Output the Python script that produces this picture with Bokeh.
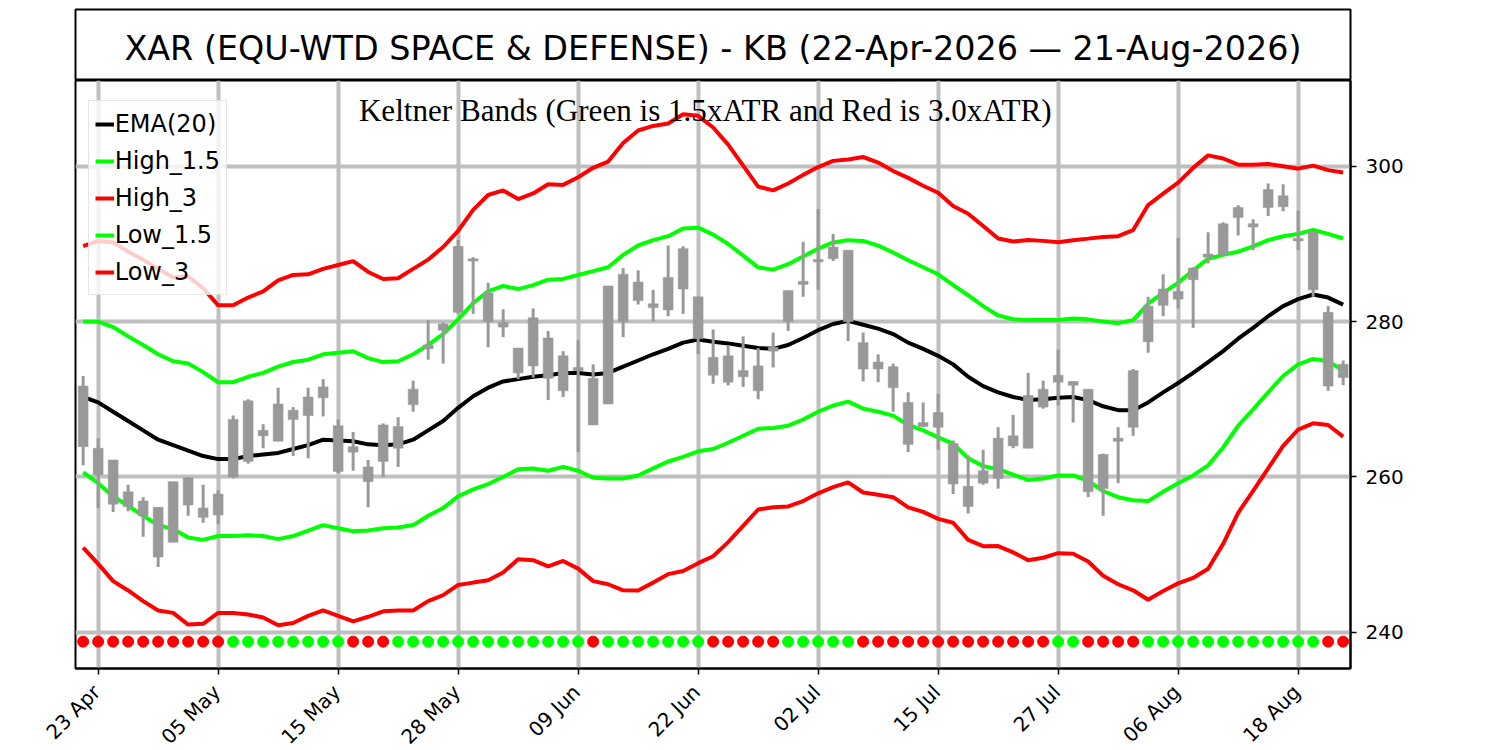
import math
import numpy as np
from bokeh.plotting import figure
from bokeh.models import FixedTicker, Label, Range1d, ColumnDataSource
from bokeh.layouts import column
from bokeh.embed import file_html
from bokeh.resources import INLINE
from bokeh.core.properties import value

# ---------------- data ----------------
title_text = "XAR (EQU-WTD SPACE & DEFENSE) - KB (22-Apr-2026 \u2014 21-Aug-2026)"
subtitle_text = "Keltner Bands (Green is 1.5xATR and Red is 3.0xATR)"

tick_idx = [1, 9, 17, 25, 33, 41, 49, 57, 65, 73, 81]
tick_labels = ["23 Apr", "05 May", "15 May", "28 May", "09 Jun", "22 Jun",
               "02 Jul", "15 Jul", "27 Jul", "06 Aug", "18 Aug"]
y_ticks = [240, 260, 280, 300]

opens = [271.7, 263.7, 262.2, 258.1, 256.9, 256.1, 259.4, 259.9, 256.0, 257.8,
         260.0, 262.0, 265.3, 264.6, 267.4, 267.9, 270.2, 260.7, 263.9, 261.3,
         266.7, 263.7, 269.3, 276.5, 278.9, 281.2, 287.8, 280.0, 279.3, 273.4,
         274.3, 272.7, 271.1, 273.7, 272.7, 269.4, 280.0, 282.7, 281.8, 281.5,
         284.2, 283.2, 275.4, 275.6, 273.7, 274.3, 276.7, 280.0, 284.8, 287.7,
         288.1, 280.0, 277.3, 274.8, 274.2, 269.6, 267.0, 268.3, 264.3, 258.8,
         260.8, 265.0, 265.3, 270.5, 271.3, 272.2, 271.8, 271.3, 262.9, 265.0,
         273.7, 277.4, 282.1, 282.9, 285.4, 288.3, 288.6, 293.4, 292.2, 294.7,
         294.8, 290.4, 291.5, 281.2, 274.5]
closes = [263.9, 260.3, 256.5, 256.2, 255.0, 249.7, 251.6, 256.4, 254.8, 255.1,
          267.4, 269.8, 266.0, 269.4, 268.6, 270.3, 271.6, 266.6, 263.2, 259.4,
          262.0, 266.5, 271.3, 277.0, 279.7, 289.7, 288.1, 283.7, 279.9, 276.6,
          280.5, 277.9, 275.6, 274.1, 266.7, 284.6, 286.1, 285.1, 282.3, 285.7,
          289.4, 277.8, 273.1, 272.2, 272.9, 271.1, 276.2, 284.0, 285.2, 288.0,
          289.6, 289.2, 273.9, 273.9, 271.5, 264.2, 266.5, 266.4, 259.1, 256.2,
          259.2, 259.8, 264.0, 263.7, 269.0, 273.1, 272.3, 258.1, 258.5, 264.6,
          266.4, 282.0, 284.2, 283.9, 286.9, 288.7, 292.6, 294.7, 292.6, 297.0,
          296.2, 290.7, 284.1, 271.7, 272.8]
highs = [273.0, 265.0, 262.2, 259.0, 257.4, 256.1, 259.4, 260.0, 259.0, 258.3,
         267.9, 270.0, 266.8, 271.5, 269.0, 271.5, 272.6, 267.4, 265.8, 262.2,
         266.9, 267.7, 272.4, 280.2, 279.9, 290.5, 288.3, 285.0, 281.6, 276.6,
         281.7, 278.8, 276.2, 277.6, 274.5, 284.6, 286.9, 286.6, 284.1, 289.8,
         289.7, 283.2, 279.0, 277.0, 278.1, 276.6, 278.6, 284.0, 290.3, 294.5,
         291.3, 289.2, 278.6, 275.8, 274.6, 270.9, 269.6, 270.7, 264.7, 262.8,
         263.5, 266.4, 268.0, 273.4, 272.4, 276.4, 272.3, 271.3, 263.0, 266.4,
         273.9, 283.2, 286.1, 290.8, 287.0, 291.5, 292.8, 295.0, 293.2, 297.8,
         297.7, 294.3, 291.7, 282.0, 275.0]
lows = [261.5, 256.0, 255.5, 255.6, 252.3, 248.4, 251.6, 255.0, 254.1, 253.9,
        259.8, 261.7, 263.7, 264.6, 262.7, 262.4, 267.8, 260.5, 260.8, 256.1,
        260.0, 261.3, 268.4, 275.1, 274.6, 281.0, 281.0, 276.7, 278.0, 272.6,
        272.8, 269.9, 270.3, 263.2, 266.7, 269.4, 278.0, 282.2, 280.0, 280.7,
        281.0, 275.8, 272.0, 271.8, 271.6, 270.0, 274.1, 278.8, 283.2, 284.1,
        287.8, 277.5, 272.3, 272.2, 268.4, 263.2, 266.4, 263.5, 257.8, 255.3,
        259.0, 258.5, 263.7, 263.7, 268.8, 269.2, 267.0, 257.4, 255.0, 259.2,
        265.3, 276.0, 280.7, 281.7, 279.2, 287.5, 288.6, 291.1, 289.2, 293.6,
        294.2, 289.2, 283.2, 271.1, 271.8]

ema20 = [270.3, 269.6, 268.4, 267.2, 266.0, 264.8, 264.1, 263.4, 262.7, 262.3,
         262.3, 262.7, 262.9, 263.1, 263.6, 264.1, 264.8, 264.7, 264.6, 264.2,
         264.1, 264.2, 264.8, 266.0, 267.2, 268.9, 270.4, 271.5, 272.3, 272.6,
         272.9, 273.1, 273.4, 273.4, 273.2, 273.4, 274.2, 275.0, 275.8, 276.5,
         277.3, 277.7, 277.4, 277.2, 276.9, 276.6, 276.5, 277.0, 277.9, 278.9,
         279.7, 280.1, 279.6, 279.1, 278.4, 277.3, 276.5, 275.6, 274.5, 272.9,
         271.7, 270.9, 270.3, 269.9, 270.0, 270.2, 270.3, 269.9, 269.1, 268.6,
         268.6, 269.6, 270.9, 272.1, 273.4, 274.8, 276.2, 277.8, 279.2, 280.7,
         282.0, 282.9, 283.5, 283.1, 282.2]
atr = [6.47, 6.93, 7.27, 7.27, 7.33, 7.33, 7.20, 7.47, 7.20, 6.60,
       6.60, 6.80, 7.00, 7.40, 7.47, 7.33, 7.33, 7.53, 7.73, 7.40,
       7.13, 7.13, 7.33, 7.33, 7.47, 7.60, 8.00, 8.27, 8.20, 7.73,
       7.87, 8.20, 8.07, 8.40, 8.87, 9.07, 9.60, 9.87, 9.80, 9.67,
       9.80, 9.60, 9.20, 8.53, 7.73, 6.93, 6.80, 6.93, 7.00, 7.00,
       7.00, 6.93, 7.20, 7.13, 7.00, 7.07, 7.00, 7.00, 6.80, 7.00,
       6.87, 6.60, 6.67, 6.87, 6.80, 6.67, 6.73, 6.93, 7.27, 7.47,
       7.73, 8.47, 8.53, 8.60, 8.80, 8.87, 8.27, 7.47, 7.00, 6.53,
       6.00, 5.60, 5.53, 5.47, 5.67]

# close vs EMA signal row: R = red, G = green
signal = ("RRRRRRRRRR" "GGGGGGGG" "RRR" "GGGGGGGGGGGGG" "R" "GGGGGGG" "RRRRR"
          "GGGGG" "RRRRRRRRRRRRR" "GG" "RRRR" "GGGGGGGGGGGG" "RR")
signal_y = 238.8

# ---------------- derived ----------------
n = len(closes)
idx = np.arange(n)
ema = np.array(ema20)
a = np.array(atr)
high_15 = ema + 1.5 * a
low_15 = ema - 1.5 * a
high_3 = ema + 3.0 * a
low_3 = ema - 3.0 * a
o = np.array(opens)
c = np.array(closes)

src = ColumnDataSource(dict(
    x=idx, high=highs, low=lows,
    top=np.maximum(o, c), bottom=np.minimum(o, c),
    ema=ema, h15=high_15, l15=low_15, h3=high_3, l3=low_3,
    sy=[signal_y] * n,
    scol=["#ff0000" if s == "R" else "#00ff00" for s in signal],
))

LEFT = 75
RIGHT = 140
W = 1490
FRAME_H = 588
X0, X1 = -0.51, 84.49
Y0, Y1 = 235.34, 311.05
TITLE_H = 80
BOTTOM = 8
LABEL_H = 750 - TITLE_H - FRAME_H - BOTTOM
TICK_FONT = "20px"

px_per_x = (W - LEFT - RIGHT) / (X1 - X0)
px_per_y = FRAME_H / (Y1 - Y0)

# ---------------- title box ----------------
t = figure(width=W, height=TITLE_H, x_range=Range1d(0, 1), y_range=Range1d(0, 1),
           output_backend="svg", toolbar_location=None, title=None,
           x_axis_type=None, y_axis_type=None,
           min_border_left=LEFT, min_border_right=RIGHT,
           min_border_top=9, min_border_bottom=0)
t.outline_line_color = "black"
t.outline_line_width = 2
t.add_layout(Label(x=0.5, y=0.45, text=title_text, text_align="center",
                   text_baseline="middle", text_font="DejaVu Sans",
                   text_font_size="33.4px", text_color="black"))

# ---------------- main chart ----------------
p = figure(width=W, height=FRAME_H + BOTTOM,
           x_range=Range1d(X0, X1), y_range=Range1d(Y0, Y1),
           y_axis_location="right", output_backend="svg",
           toolbar_location=None, title=None,
           min_border_left=LEFT, min_border_right=RIGHT,
           min_border_top=0, min_border_bottom=BOTTOM)
p.outline_line_color = "black"
p.outline_line_width = 2

p.xaxis.ticker = FixedTicker(ticks=tick_idx)
p.xaxis.major_label_overrides = {i: "" for i in tick_idx}
p.yaxis.ticker = FixedTicker(ticks=y_ticks)
for ax in (p.xaxis, p.yaxis):
    ax.major_label_text_font = "DejaVu Sans"
    ax.major_label_text_font_size = TICK_FONT
    ax.major_label_text_color = "black"
    ax.major_tick_out = 6
    ax.major_tick_in = 0
    ax.minor_tick_out = 0
    ax.minor_tick_in = 0
    ax.major_tick_line_width = 1.5
    ax.major_tick_line_color = "black"
    ax.axis_line_color = "black"
    ax.axis_line_width = 2
p.yaxis.major_label_standoff = 9
p.xaxis.major_label_text_font_size = "0px"
p.xaxis.major_label_standoff = 0

p.grid.grid_line_color = "#bfbfbf"
p.grid.grid_line_width = 4

lw = 4
p.line("x", "ema", source=src, color="black", line_width=lw, legend_label="EMA(20)")
p.line("x", "h15", source=src, color="#00ff00", line_width=lw, legend_label="High_1.5")
p.line("x", "h3", source=src, color="#ff0000", line_width=lw, legend_label="High_3")
p.line("x", "l15", source=src, color="#00ff00", line_width=lw, legend_label="Low_1.5")
p.line("x", "l3", source=src, color="#ff0000", line_width=lw, legend_label="Low_3")

p.segment(x0="x", y0="low", x1="x", y1="high", source=src,
          line_color="#999999", line_width=3)
p.vbar(x="x", width=0.66, top="top", bottom="bottom", source=src,
       fill_color="#999999", line_color="#999999", line_width=0.5)

p.scatter("x", "sy", source=src, size=11, fill_color="scol", line_color="scol")

p.add_layout(Label(x=41.47, y=Y1 - 30 / px_per_y, text=subtitle_text,
                   text_align="center", text_baseline="middle",
                   text_font="Liberation Serif", text_font_size="31.1px",
                   text_color="black"))

leg = p.legend[0]
leg.location = (12.7, 373)
leg.label_text_font = "DejaVu Sans"
leg.label_text_font_size = "24px"
leg.label_text_color = "black"
leg.glyph_width = 19
leg.glyph_height = 20
leg.label_height = 33
leg.spacing = 4
leg.padding = 6
leg.margin = 0
leg.label_standoff = 1
leg.border_line_color = "#cccccc"
leg.border_line_width = 1.5
leg.background_fill_color = "white"
leg.background_fill_alpha = 0.8

# ---------------- rotated date labels strip (same x scale as the chart) ----------------
lab = figure(width=W, height=LABEL_H,
             x_range=Range1d(X0 - LEFT / px_per_x, X1 + RIGHT / px_per_x),
             y_range=Range1d(LABEL_H, 0),
             output_backend="svg", toolbar_location=None, title=None,
             x_axis_type=None, y_axis_type=None,
             min_border_left=0, min_border_right=0,
             min_border_top=0, min_border_bottom=0)
lab.frame_align = False
lab.outline_line_color = None
lab_src = ColumnDataSource(dict(
    x=[ti - 10.0 / px_per_x for ti in tick_idx],
    y=[3.5] * len(tick_idx),
    text=tick_labels,
))
lab.text(x="x", y="y", text="text", source=lab_src, angle=math.pi / 4,
         text_align="right", text_baseline="top",
         text_font=value("DejaVu Sans"), text_font_size=value(TICK_FONT),
         text_color="black")

layout = column(t, p, lab, spacing=0)
open("out.html", "w").write(file_html(layout, INLINE))
